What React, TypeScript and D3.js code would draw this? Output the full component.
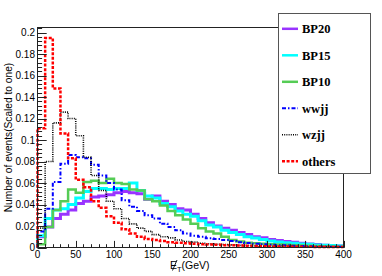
import * as d3 from "d3";
import { useEffect, useRef } from "react";

// 10 GeV bins from 0 to 400
const binEdges = d3.range(0, 401, 10);

const bp20 = [0.010, 0.019, 0.027, 0.031, 0.035, 0.041, 0.043, 0.047, 0.048, 0.049,
  0.051, 0.052, 0.051, 0.050, 0.045, 0.048, 0.043, 0.040, 0.036, 0.035,
  0.031, 0.027, 0.023, 0.020, 0.018, 0.016, 0.014, 0.012, 0.010, 0.009,
  0.0075, 0.0065, 0.0055, 0.0048, 0.004, 0.0033, 0.0028, 0.0022, 0.0018, 0.0014];

const bp15 = [0.011, 0.027, 0.035, 0.036, 0.040, 0.046, 0.052, 0.055, 0.055, 0.054,
  0.055, 0.055, 0.060, 0.053, 0.048, 0.046, 0.041, 0.038, 0.034, 0.031,
  0.029, 0.025, 0.021, 0.019, 0.016, 0.014, 0.012, 0.010, 0.0088, 0.0075,
  0.006, 0.0052, 0.0045, 0.004, 0.0032, 0.003, 0.0024, 0.002, 0.0018, 0.0014];

const bp10 = [0.003, 0.019, 0.035, 0.043, 0.054, 0.051, 0.061, 0.062, 0.060, 0.064,
  0.060, 0.059, 0.054, 0.053, 0.045, 0.043, 0.039, 0.034, 0.030, 0.026,
  0.022, 0.018, 0.015, 0.013, 0.010, 0.007, 0.0055, 0.0045, 0.004, 0.0035,
  0.003, 0.0028, 0.0025, 0.002, 0.0018, 0.0016, 0.0014, 0.0012, 0.001, 0.0008];

const wwjj = [0.015, 0.036, 0.061, 0.078, 0.086, 0.084, 0.083, 0.077, 0.067, 0.060,
  0.054, 0.044, 0.038, 0.034, 0.030, 0.027, 0.022, 0.019, 0.016, 0.013,
  0.011, 0.010, 0.0085, 0.0078, 0.007, 0.006, 0.005, 0.0042, 0.0036, 0.003,
  0.0026, 0.0022, 0.002, 0.0017, 0.0014, 0.0012, 0.001, 0.0009, 0.0008, 0.0006];

const wzjj = [0.018, 0.080, 0.116, 0.126, 0.120, 0.104, 0.084, 0.067, 0.053, 0.043,
  0.036, 0.027, 0.022, 0.018, 0.015, 0.012, 0.010, 0.009, 0.007, 0.0055,
  0.005, 0.004, 0.0035, 0.003, 0.0027, 0.0024, 0.002, 0.0018, 0.0015, 0.0013,
  0.0012, 0.001, 0.0009, 0.0008, 0.0007, 0.0006, 0.0005, 0.0005, 0.0004, 0.0003];

const others = [0.111, 0.195, 0.148, 0.106, 0.083, 0.063, 0.056, 0.043, 0.037, 0.029,
  0.023, 0.017, 0.013, 0.010, 0.008, 0.007, 0.006, 0.005, 0.0045, 0.004,
  0.0035, 0.003, 0.0028, 0.0025, 0.0022, 0.002, 0.0018, 0.0016, 0.0014, 0.0012,
  0.001, 0.001, 0.0009, 0.0008, 0.0007, 0.0006, 0.0005, 0.0005, 0.0004, 0.0004];

const seriesNames = ["BP20", "BP15", "BP10", "wwjj", "wzjj", "others"];
const seriesValues = [bp20, bp15, bp10, wwjj, wzjj, others];

const xTicks = [0, 50, 100, 150, 200, 250, 300, 350, 400];
const yTicks = [0, 0.02, 0.04, 0.06, 0.08, 0.1, 0.12, 0.14, 0.16, 0.18, 0.2];

const styles = [
  { color: "#9933ff", width: 3, dash: null },
  { color: "#00ffff", width: 3, dash: null },
  { color: "#55cc55", width: 2.5, dash: null },
  { color: "#0000ff", width: 2, dash: "4 2 1.5 2" },
  { color: "#000000", width: 1.6, dash: "1 1.2" },
  { color: "#ff0000", width: 2.5, dash: "3 1.6" },
];

export default function App() {
  const ref = useRef<SVGSVGElement>(null);

  useEffect(() => {
    const svg = d3.select(ref.current);
    svg.selectAll("*").remove();

    const width = 382;
    const height = 276;
    const frame = { left: 37.5, right: 343.5, top: 27.5, bottom: 247.5 };

    svg.attr("width", width).attr("height", height);

    const x = d3.scaleLinear().domain([0, 400]).range([frame.left, frame.right]);
    const y = d3.scaleLinear().domain([0, 0.2047]).range([frame.bottom, frame.top]);

    // histograms (step outlines)
    const line = d3.line<[number, number]>().x(d => x(d[0])).y(d => y(d[1]));
    seriesValues.forEach((vals, si) => {
      const pts: [number, number][] = [[0, 0]];
      vals.forEach((v, i) => {
        pts.push([binEdges[i], v]);
        pts.push([binEdges[i + 1], v]);
      });
      pts.push([400, 0]);
      const st = styles[si];
      svg.append("path")
        .attr("d", line(pts))
        .attr("fill", "none")
        .attr("stroke", st.color)
        .attr("stroke-width", st.width)
        .attr("stroke-dasharray", st.dash)
        .attr("stroke-linejoin", "miter");
    });

    // frame
    svg.append("rect")
      .attr("x", frame.left).attr("y", frame.top)
      .attr("width", frame.right - frame.left)
      .attr("height", frame.bottom - frame.top)
      .attr("fill", "none")
      .attr("stroke", "#222")
      .attr("stroke-width", 1);

    // y ticks (inside)
    const yMinor = d3.range(0, 0.2041, 0.004);
    svg.append("g").selectAll("line")
      .data(yMinor)
      .join("line")
      .attr("x1", frame.left)
      .attr("x2", (d, i) => frame.left + (i % 5 === 0 ? 9.2 : 4.6))
      .attr("y1", d => Math.round(y(d)) + 0.5)
      .attr("y2", d => Math.round(y(d)) + 0.5)
      .attr("stroke", "#222");

    svg.append("g").selectAll("text")
      .data(yTicks)
      .join("text")
      .attr("x", 35)
      .attr("y", d => y(d) + 3.6)
      .attr("text-anchor", "end")
      .attr("font-family", "Liberation Sans, Arial, sans-serif")
      .attr("font-size", 10)
      .text(d => d3.format("~g")(+d.toFixed(2)));

    // x ticks (inside)
    const xMinor = d3.range(0, 401, 10);
    svg.append("g").selectAll("line")
      .data(xMinor)
      .join("line")
      .attr("x1", d => Math.round(x(d)) + 0.5)
      .attr("x2", d => Math.round(x(d)) + 0.5)
      .attr("y1", frame.bottom)
      .attr("y2", (d, i) => frame.bottom - (i % 5 === 0 ? 6.6 : 3.3))
      .attr("stroke", "#222");

    svg.append("g").selectAll("text")
      .data(xTicks)
      .join("text")
      .attr("x", d => x(d))
      .attr("y", 258)
      .attr("text-anchor", "middle")
      .attr("font-family", "Liberation Sans, Arial, sans-serif")
      .attr("font-size", 10)
      .text(d => d);

    // axis titles
    svg.append("text")
      .attr("transform", "translate(12,137.5) rotate(-90)")
      .attr("text-anchor", "middle")
      .attr("font-family", "Liberation Sans, Arial, sans-serif")
      .attr("font-size", 10.2)
      .text("Number of events(Scaled to one)");

    const xt = svg.append("text")
      .attr("x", 170)
      .attr("y", 269)
      .attr("font-family", "Liberation Sans, Arial, sans-serif")
      .attr("font-size", 10.5);
    xt.append("tspan").text("E");
    xt.append("tspan").attr("dy", 2.5).attr("font-size", 7.5).text("T");
    xt.append("tspan").attr("dy", -2.5).text("(GeV)");
    svg.append("line")
      .attr("x1", 172.5).attr("y1", 270.5)
      .attr("x2", 177).attr("y2", 260)
      .attr("stroke", "#000").attr("stroke-width", 0.9);

    // legend
    const leg = { x: 278.5, y: 13.5, w: 92, h: 160 };
    svg.append("rect")
      .attr("x", leg.x).attr("y", leg.y)
      .attr("width", leg.w).attr("height", leg.h)
      .attr("fill", "white")
      .attr("stroke", "#555")
      .attr("stroke-width", 1);

    const rows = svg.append("g").selectAll("g")
      .data(seriesNames)
      .join("g")
      .attr("transform", (d, i) => `translate(0,${33.3 + i * 26.5})`);

    rows.append("line")
      .attr("x1", 282).attr("x2", 298)
      .attr("y1", -4.5).attr("y2", -4.5)
      .attr("stroke", (d, i) => styles[i].color)
      .attr("stroke-width", (d, i) => Math.min(styles[i].width, 2.5))
      .attr("stroke-dasharray", (d, i) => styles[i].dash);

    rows.append("text")
      .attr("x", 302)
      .attr("y", 0)
      .attr("font-family", "Liberation Serif, Times New Roman, serif")
      .attr("font-weight", "bold")
      .attr("font-size", 12.5)
      .text(d => d);
  }, []);

  return (
    <div style={{ position: "fixed", left: 0, top: 0, background: "white" }}>
      <svg ref={ref} style={{ display: "block" }}></svg>
    </div>
  );
}
